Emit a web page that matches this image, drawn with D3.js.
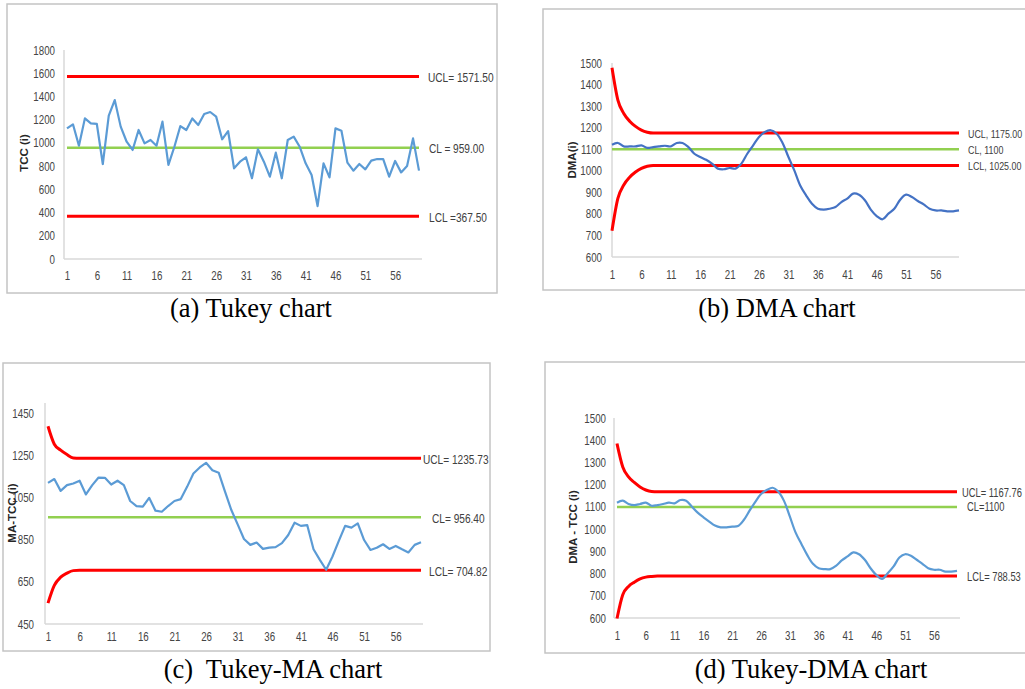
<!DOCTYPE html>
<html>
<head>
<meta charset="utf-8">
<script src="https://cdn.jsdelivr.net/npm/d3@7"></script>
<style>
body{margin:0;background:#fff;}
svg{display:block;}
.tick text{font-family:"Liberation Sans","Arial",sans-serif;font-size:12.5px;fill:#454545;}
.lim-label{font-family:"Liberation Sans","Arial",sans-serif;fill:#404040;}
.y-title{font-family:"Liberation Sans","Arial",sans-serif;font-size:11.5px;font-weight:bold;fill:#262626;}
.caption{font-family:"Liberation Serif","Times New Roman",serif;font-size:26.5px;fill:#000;white-space:pre;}
</style>
</head>
<body>
<svg id="fig" width="1025" height="689"></svg>
<script>
// x axis ticks (sample number), same for all 4 panels
const xTicks = [1, 6, 11, 16, 21, 26, 31, 36, 41, 46, 51, 56];

// (a) Tukey chart - TCC(i)
const tccValues = [1125, 1160, 976, 1211, 1168, 1163, 818, 1234, 1369, 1140,
  1010, 939, 1111, 996, 1025, 976, 1183, 810, 967, 1145,
  1111, 1211, 1154, 1249, 1266, 1226, 1031, 1102, 781, 838,
  876, 695, 945, 838, 709, 916, 695, 1025, 1054, 967,
  824, 723, 456, 824, 703, 1125, 1105, 830, 761, 818,
  772, 847, 861, 861, 709, 844, 746, 801, 1039, 761];
const tukeyUCL = [1571.5];
const tukeyCL = [959];
const tukeyLCL = [367.5];
const tukeyLabels = ['UCL= 1571.50', 'CL = 959.00', 'LCL =367.50'];
const tukeyYTicks = [0, 200, 400, 600, 800, 1000, 1200, 1400, 1600, 1800];

// (b) DMA chart - DMA(i)
const dmaValues = [1121, 1129, 1113, 1113, 1113, 1118, 1106, 1110, 1113, 1116,
  1113, 1129, 1129, 1110, 1079, 1064, 1051, 1033, 1010, 1007,
  1013, 1010, 1033, 1079, 1118, 1157, 1180, 1188, 1172, 1129,
  1064, 1002, 932, 886, 847, 824, 820, 824, 832, 855,
  871, 894, 889, 863, 820, 790, 775, 801, 824, 866,
  889, 878, 860, 844, 824, 816, 816, 812, 812, 816];
const dmaUCL = [1478, 1328, 1266, 1230, 1206, 1189, 1179, 1175];
const dmaCL = [1100];
const dmaLCL = [722, 872, 934, 970, 994, 1011, 1021, 1025];
const dmaLabels = ['UCL, 1175.00', 'CL, 1100', 'LCL, 1025.00'];
const dmaYTicks = [600, 700, 800, 900, 1000, 1100, 1200, 1300, 1400, 1500];

// (c) Tukey-MA chart - MA-TCC(i)
const maTccValues = [1119, 1137, 1081, 1108, 1116, 1129, 1064, 1108, 1144, 1143,
  1111, 1129, 1108, 1033, 1009, 1006, 1048, 987, 982, 1009,
  1033, 1042, 1100, 1163, 1192, 1214, 1179, 1167, 1077, 990,
  922, 853, 825, 836, 806, 812, 814, 833, 872, 930,
  915, 919, 804, 754, 707, 770, 844, 915, 907, 927,
  848, 801, 811, 828, 806, 820, 804, 789, 825, 837];
const maUCL = [1387, 1302, 1274, 1253, 1237, 1235.73];
const maCL = [956.4];
const maLCL = [549, 633, 672, 691, 703, 704.82];
const maLabels = ['UCL= 1235.73', 'CL= 956.40', 'LCL= 704.82'];
const maYTicks = [450, 650, 850, 1050, 1250, 1450];

// (d) Tukey-DMA chart - DMA-TCC(i)
const dmaTccValues = [1119, 1128, 1113, 1108, 1113, 1119, 1105, 1108, 1113, 1119,
  1116, 1131, 1128, 1101, 1074, 1053, 1034, 1016, 1008, 1008,
  1011, 1014, 1041, 1083, 1123, 1158, 1176, 1186, 1168, 1126,
  1056, 984, 933, 884, 844, 824, 820, 820, 835, 859,
  877, 895, 887, 862, 824, 794, 776, 802, 832, 872,
  887, 880, 862, 844, 824, 817, 817, 809, 809, 812];
const tdUCL = [1385, 1280, 1235, 1210, 1190, 1176, 1169, 1167.76];
const tdCL = [1100];
const tdLCL = [598, 705, 742, 761, 776, 784, 787, 788.53];
const tdLabels = ['UCL= 1167.76', 'CL=1100', 'LCL= 788.53'];
const tdYTicks = [600, 700, 800, 900, 1000, 1100, 1200, 1300, 1400, 1500];

const nPoints = 60;
const squeeze = 0.78; // the original uses a narrow (Calibri like) face
const svg = d3.select('#fig');

// turn a short limit array into points, last value held flat to the end
function limitPoints(arr){
    const pts = arr.map((v, i) => ({i: i + 1, v: v}));
    pts.push({i: nPoints, v: arr[arr.length - 1]});
    return pts;
}

function drawPanel(cfg){
    const g = svg.append('g');

    g.append('rect')
     .attr('x', cfg.frame[0]).attr('y', cfg.frame[1])
     .attr('width', cfg.frame[2]).attr('height', cfg.frame[3])
     .attr('fill', '#fff').attr('stroke', '#c4c4c4').attr('stroke-width', 1.5);

    const x = d3.scaleLinear().domain([1, nPoints]).range([cfg.x1, cfg.xN]);
    const y = d3.scaleLinear().domain(d3.extent(cfg.yTicks)).range([cfg.yBottom, cfg.yTop]);

    // axes
    const yAxis = d3.axisLeft(y).tickValues(cfg.yTicks).tickFormat(d3.format('d'))
                    .tickSize(0).tickPadding(cfg.yPad);
    const yDraw = g.append('g').attr('transform', `translate(${cfg.axisX},0)`).call(yAxis);
    yDraw.select('.domain').remove();
    yDraw.selectAll('text')
         .attr('x', -cfg.yPad / squeeze)
         .attr('transform', `scale(${squeeze},1)`);
    const xAxis = d3.axisBottom(x).tickValues(xTicks).tickSize(0).tickPadding(cfg.xPad);
    const xDraw = g.append('g').attr('transform', `translate(0,${cfg.yBottom})`).call(xAxis);
    xDraw.select('.domain').remove();
    xDraw.selectAll('text').attr('transform', `scale(${squeeze},1)`);

    g.append('line').attr('x1', cfg.axisX).attr('x2', cfg.axisX)
     .attr('y1', cfg.axisTop).attr('y2', cfg.yBottom)
     .attr('stroke', '#d9d9d9').attr('stroke-width', 1.5);
    g.append('line').attr('x1', cfg.axisX).attr('x2', cfg.axisRight)
     .attr('y1', cfg.yBottom).attr('y2', cfg.yBottom)
     .attr('stroke', '#d9d9d9').attr('stroke-width', 1.5);

    g.append('text').attr('class', 'y-title')
     .attr('transform', `translate(${cfg.titleX},${cfg.titleY}) rotate(-90)`)
     .attr('text-anchor', 'middle').attr('dy', '0.35em')
     .text(cfg.yTitle);

    const limCurve = cfg.smooth ? d3.curveMonotoneX : d3.curveLinear;
    const limLine = d3.line().x(d => x(d.i)).y(d => y(d.v)).curve(limCurve);

    // CL first, limits on top
    g.append('path').datum(limitPoints(cfg.cl))
     .attr('d', limLine).attr('fill', 'none')
     .attr('stroke', '#92d050').attr('stroke-width', 2.5);
    [cfg.ucl, cfg.lcl].forEach(arr => {
        g.append('path').datum(limitPoints(arr))
         .attr('d', limLine).attr('fill', 'none')
         .attr('stroke', '#ff0000').attr('stroke-width', 3);
    });

    const valLine = d3.line().x((d, i) => x(i + 1)).y(d => y(d))
                      .curve(cfg.smoothSeries ? d3.curveCatmullRom.alpha(0.5) : d3.curveLinear);
    g.append('path').datum(cfg.values)
     .attr('d', valLine).attr('fill', 'none')
     .attr('stroke', cfg.color).attr('stroke-width', 2.2)
     .attr('stroke-linejoin', 'round');

    // limit labels
    const labelVals = [cfg.ucl[cfg.ucl.length - 1], cfg.cl[0], cfg.lcl[cfg.lcl.length - 1]];
    g.selectAll('.lim-label').data(cfg.labels).enter()
     .append('text').attr('class', 'lim-label')
     .style('font-size', cfg.labelSize + 'px')
     .attr('transform', (d, i) =>
        `translate(${cfg.labelX[i]},${y(labelVals[i]) + cfg.labelDy[i]}) scale(${squeeze},1)`)
     .attr('dy', '0.35em')
     .text(d => d);

    g.append('text').attr('class', 'caption')
     .attr('x', cfg.capX).attr('y', cfg.capY)
     .attr('text-anchor', 'middle')
     .text(cfg.caption);
}

drawPanel({
    frame: [7, 4, 490, 289], values: tccValues, ucl: tukeyUCL, cl: tukeyCL, lcl: tukeyLCL,
    labels: tukeyLabels, yTicks: tukeyYTicks, yTitle: 'TCC (i)', caption: '(a) Tukey chart',
    x1: 67, xN: 419, yTop: 50, yBottom: 259, axisX: 64, axisTop: 50, axisRight: 422,
    yPad: 9, xPad: 12, titleX: 24, titleY: 153, labelX: [428, 429, 429], labelDy: [1, 1, 1],
    labelSize: 13, color: '#5b9bd5', smooth: false, smoothSeries: false, capX: 251, capY: 317
});

drawPanel({
    frame: [543, 9, 500, 281], values: dmaValues, ucl: dmaUCL, cl: dmaCL, lcl: dmaLCL,
    labels: dmaLabels, yTicks: dmaYTicks, yTitle: 'DMA(i)', caption: '(b) DMA chart',
    x1: 612, xN: 959, yTop: 63, yBottom: 257, axisX: 612, axisTop: 63, axisRight: 959,
    yPad: 10, xPad: 13, titleX: 572, titleY: 160, labelX: [968, 968, 968], labelDy: [1, 1, 1],
    labelSize: 11.4, color: '#4472c4', smooth: true, smoothSeries: true, capX: 777, capY: 317
});

drawPanel({
    frame: [3, 363, 487, 288], values: maTccValues, ucl: maUCL, cl: maCL, lcl: maLCL,
    labels: maLabels, yTicks: maYTicks, yTitle: 'MA-TCC (i)', caption: '(c)  Tukey-MA chart',
    x1: 48, xN: 421, yTop: 413, yBottom: 624, axisX: 45, axisTop: 403, axisRight: 423,
    yPad: 11, xPad: 8, titleX: 12, titleY: 513, labelX: [423, 432, 429], labelDy: [1, 1, 1],
    labelSize: 13, color: '#5b9bd5', smooth: true, smoothSeries: false, capX: 273, capY: 678
});

drawPanel({
    frame: [545, 362, 500, 291], values: dmaTccValues, ucl: tdUCL, cl: tdCL, lcl: tdLCL,
    labels: tdLabels, yTicks: tdYTicks, yTitle: 'DMA - TCC (i)', caption: '(d) Tukey-DMA chart',
    x1: 617, xN: 957, yTop: 418, yBottom: 618, axisX: 614, axisTop: 418, axisRight: 960,
    yPad: 8, xPad: 13, titleX: 573, titleY: 527, labelX: [962, 967, 967], labelDy: [1, 0, 1],
    labelSize: 12, color: '#5b9bd5', smooth: true, smoothSeries: true, capX: 811, capY: 678
});
</script>
</body>
</html>
